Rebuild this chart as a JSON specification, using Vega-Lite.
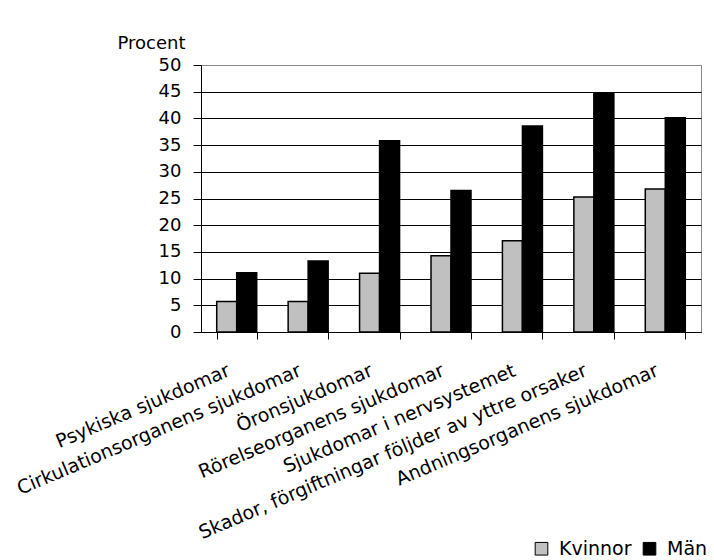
{
  "$schema": "https://vega.github.io/schema/vega-lite/v6.json",
  "width": 500,
  "height": 267,
  "autosize": "none",
  "padding": {"left": 201, "top": 65, "right": 13, "bottom": 228},
  "background": "white",
  "data": {
    "values": [
      {"orsak": "Psykiska sjukdomar", "kon": "Kvinnor", "procent": 5.7},
      {"orsak": "Psykiska sjukdomar", "kon": "Män", "procent": 11.1},
      {"orsak": "Cirkulationsorganens sjukdomar", "kon": "Kvinnor", "procent": 5.7},
      {"orsak": "Cirkulationsorganens sjukdomar", "kon": "Män", "procent": 13.3},
      {"orsak": "Öronsjukdomar", "kon": "Kvinnor", "procent": 11.0},
      {"orsak": "Öronsjukdomar", "kon": "Män", "procent": 35.8},
      {"orsak": "Rörelseorganens sjukdomar", "kon": "Kvinnor", "procent": 14.3},
      {"orsak": "Rörelseorganens sjukdomar", "kon": "Män", "procent": 26.5},
      {"orsak": "Sjukdomar i nervsystemet", "kon": "Kvinnor", "procent": 17.1},
      {"orsak": "Sjukdomar i nervsystemet", "kon": "Män", "procent": 38.6},
      {"orsak": "Skador, förgiftningar följder av yttre orsaker", "kon": "Kvinnor", "procent": 25.3},
      {"orsak": "Skador, förgiftningar följder av yttre orsaker", "kon": "Män", "procent": 44.7},
      {"orsak": "Andningsorganens sjukdomar", "kon": "Kvinnor", "procent": 26.8},
      {"orsak": "Andningsorganens sjukdomar", "kon": "Män", "procent": 40.1}
    ]
  },
  "mark": {"type": "bar", "stroke": "#000000", "strokeWidth": 1.5},
  "encoding": {
    "x": {
      "field": "orsak",
      "type": "nominal",
      "sort": null,
      "title": null,
      "scale": {"paddingInner": 0.44, "paddingOuter": 0.22},
      "axis": {
        "tickBand": "extent",
        "domainColor": "#000000",
        "tickColor": "#000000",
        "tickSize": 7,
        "labelAngle": 337,
        "labelAlign": "right",
        "labelBaseline": "top",
        "labelPadding": 22,
        "labelOffset": -12,
        "labelFontSize": 19,
        "labelColor": "#000000",
        "labelLimit": 0,
        "labelOverlap": false,
        "grid": false
      }
    },
    "xOffset": {"field": "kon", "type": "nominal", "sort": ["Kvinnor", "Män"]},
    "y": {
      "field": "procent",
      "type": "quantitative",
      "scale": {"domain": [0, 50], "nice": false},
      "axis": {
        "values": [0, 5, 10, 15, 20, 25, 30, 35, 40, 45, 50],
        "title": "Procent",
        "titleAngle": 0,
        "titleAlign": "left",
        "titleBaseline": "alphabetic",
        "titleX": -84,
        "titleY": -17,
        "titleFontSize": 18,
        "titleFontWeight": "normal",
        "titleColor": "#000000",
        "domainColor": "#000000",
        "tickColor": "#000000",
        "tickSize": 8,
        "labelPadding": 12,
        "labelFontSize": 18,
        "labelColor": "#000000",
        "grid": true,
        "gridColor": {"condition": {"test": "datum.value === 50", "value": "#888888"}, "value": "#000000"},
        "gridOpacity": 1
      }
    },
    "color": {
      "field": "kon",
      "type": "nominal",
      "scale": {"domain": ["Kvinnor", "Män"], "range": ["#c0c0c0", "#000000"]},
      "legend": {
        "orient": "none",
        "legendX": 331,
        "legendY": 474,
        "direction": "horizontal",
        "title": null,
        "symbolType": "square",
        "symbolSize": 160,
        "symbolStrokeColor": "#000000",
        "symbolStrokeWidth": 1,
        "symbolOpacity": 1,
        "labelFontSize": 19,
        "labelColor": "#000000",
        "labelOffset": 8,
        "columnPadding": 8
      }
    }
  },
  "config": {
    "font": "DejaVu Sans",
    "view": {"stroke": "#888888"}
  }
}
